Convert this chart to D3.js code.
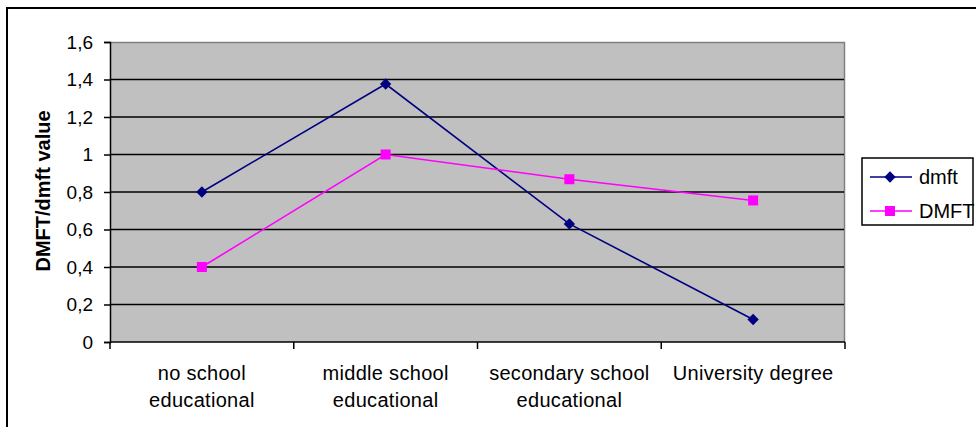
<!DOCTYPE html>
<html>
<head>
<meta charset="utf-8">
<script src="https://cdn.jsdelivr.net/npm/d3@7"></script>
<style>
  html, body { margin: 0; padding: 0; background: #fff; }
  svg { display: block; font-family: "Liberation Sans", Arial, sans-serif; }
</style>
</head>
<body>
<svg id="chart" width="976" height="427"></svg>
<script>
// Education level categories (two-line labels)
const categories = [
  ["no school", "educational"],
  ["middle school", "educational"],
  ["secondary school", "educational"],
  ["University degree"]
];
// Mean caries indices per education level
const dmftValues = [0.80, 1.376, 0.63, 0.12];
const DMFTValues = [0.40, 1.00, 0.868, 0.755];
const yTicks = [0, 0.2, 0.4, 0.6, 0.8, 1, 1.2, 1.4, 1.6];
const seriesNames = ["dmft", "DMFT"];
const seriesColors = ["#000080", "#FF00FF"];

const svg = d3.select("#chart");
const plot = { left: 110, right: 845, top: 42, bottom: 342 };

// Outer chart frame (extends past the visible window on the right and bottom)
svg.append("rect")
  .attr("x", 7).attr("y", 8).attr("width", 1000).attr("height", 500)
  .attr("fill", "none").attr("stroke", "#000").attr("stroke-width", 2);

const x = d3.scaleBand()
  .domain(categories.map((d, i) => i))
  .range([plot.left, plot.right])
  .padding(0);
const y = d3.scaleLinear().domain([0, 1.6]).range([plot.bottom, plot.top]);

// Plot area
svg.append("rect")
  .attr("x", plot.left).attr("y", plot.top)
  .attr("width", plot.right - plot.left).attr("height", plot.bottom - plot.top)
  .attr("fill", "#C0C0C0");
// Plot area frame: gray top & right
svg.append("path")
  .attr("d", `M${plot.left},${plot.top + 0.5}H${plot.right - 0.5}V${plot.bottom}`)
  .attr("fill", "none").attr("stroke", "#808080").attr("stroke-width", 1.5);

// Gridlines
svg.append("g").selectAll("line")
  .data(yTicks.filter(t => t > 0 && t < 1.6))
  .join("line")
  .attr("x1", plot.left).attr("x2", plot.right - 1)
  .attr("y1", d => y(d)).attr("y2", d => y(d))
  .attr("stroke", "#000").attr("stroke-width", 1.5);

// Y axis
const yAxis = d3.axisLeft(y)
  .tickValues(yTicks)
  .tickSize(6)
  .tickPadding(11)
  .tickFormat(d => String(d).replace(".", ","));
const gy = svg.append("g").attr("transform", `translate(${plot.left},0)`).call(yAxis);
gy.select(".domain").attr("stroke", "#000").attr("stroke-width", 1.5);
gy.selectAll(".tick line").attr("stroke", "#000").attr("stroke-width", 1.5);
gy.selectAll(".tick text")
  .attr("font-size", 19).attr("fill", "#000")
  .attr("font-family", "Liberation Sans, Arial, sans-serif");

// X axis baseline and boundary ticks
svg.append("line")
  .attr("x1", plot.left).attr("x2", plot.right)
  .attr("y1", plot.bottom).attr("y2", plot.bottom)
  .attr("stroke", "#000").attr("stroke-width", 1.5);
const bounds = categories.map((d, i) => x(i)).concat([x(categories.length - 1) + x.bandwidth()]);
svg.append("g").selectAll("line")
  .data(bounds)
  .join("line")
  .attr("x1", d => d).attr("x2", d => d)
  .attr("y1", plot.bottom).attr("y2", plot.bottom + 7)
  .attr("stroke", "#000").attr("stroke-width", 1.5);

// Category labels
const xl = svg.append("g").selectAll("text")
  .data(categories)
  .join("text")
  .attr("x", (d, i) => x(i) + x.bandwidth() / 2)
  .attr("y", 380)
  .attr("text-anchor", "middle")
  .attr("font-size", 20)
  .attr("letter-spacing", 0.3)
  .attr("fill", "#000");
xl.selectAll("tspan")
  .data(d => d)
  .join("tspan")
  .attr("x", function() { return d3.select(this.parentNode).attr("x"); })
  .attr("dy", (d, i) => i === 0 ? 0 : 27)
  .text(d => d);

// Y axis title
svg.append("text")
  .attr("transform", "translate(50,191) rotate(-90)")
  .attr("text-anchor", "middle")
  .attr("font-size", 20)
  .attr("font-weight", "bold")
  .attr("fill", "#000")
  .text("DMFT/dmft value");

// Series
const line = d3.line().x((d, i) => x(i) + x.bandwidth() / 2).y(d => y(d));
const allSeries = [dmftValues, DMFTValues];
const diamondPath = d3.symbol().type(d3.symbolSquare).size(64)();
const squarePath = d3.symbol().type(d3.symbolSquare).size(100)();

allSeries.forEach((vals, s) => {
  svg.append("path")
    .attr("d", line(vals))
    .attr("fill", "none")
    .attr("stroke", seriesColors[s])
    .attr("stroke-width", 1.6);
  svg.append("g").selectAll("path")
    .data(vals)
    .join("path")
    .attr("d", s === 0 ? diamondPath : squarePath)
    .attr("transform", (d, i) =>
      `translate(${x(i) + x.bandwidth() / 2},${y(d)})` + (s === 0 ? " rotate(45)" : ""))
    .attr("fill", seriesColors[s]);
});

// Legend
const legend = svg.append("g");
legend.append("rect")
  .attr("x", 862).attr("y", 158).attr("width", 111).attr("height", 67)
  .attr("fill", "#fff").attr("stroke", "#000").attr("stroke-width", 1.5);
seriesNames.forEach((name, s) => {
  const ly = 177 + s * 34;
  legend.append("line")
    .attr("x1", 870).attr("x2", 912).attr("y1", ly).attr("y2", ly)
    .attr("stroke", seriesColors[s]).attr("stroke-width", 1.6);
  legend.append("path")
    .attr("fill", seriesColors[s])
    .attr("d", s === 0 ? diamondPath : squarePath)
    .attr("transform", `translate(890,${ly})` + (s === 0 ? " rotate(45)" : ""));
  legend.append("text")
    .attr("x", 919).attr("y", ly + 7)
    .attr("font-size", 20).attr("fill", "#000")
    .text(name);
});
</script>
</body>
</html>
